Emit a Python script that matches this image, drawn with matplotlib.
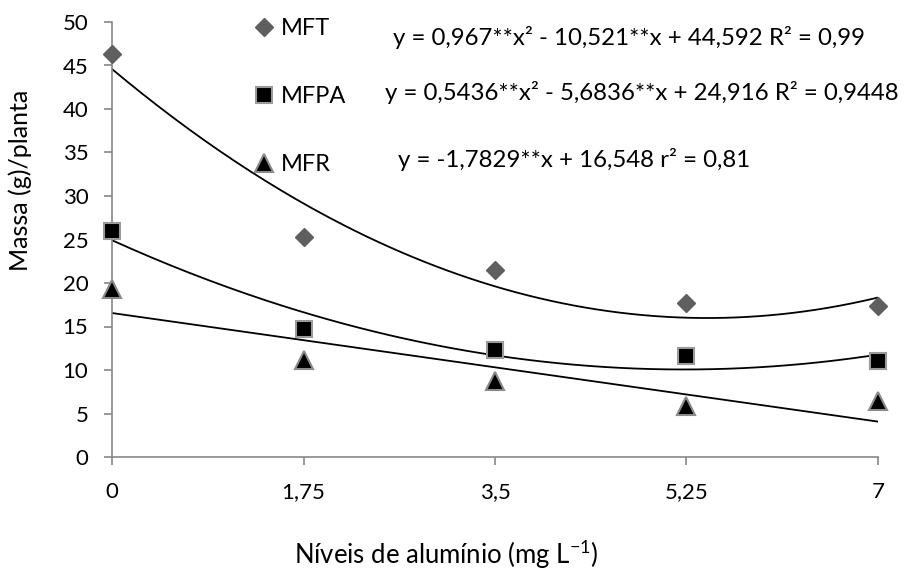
import matplotlib
matplotlib.use("Agg")
import matplotlib.pyplot as plt
from matplotlib.lines import Line2D
import numpy as np

plt.rcParams["font.family"] = ["Lato", "DejaVu Sans"]
plt.rcParams["mathtext.default"] = "regular"

# doses of aluminium (mg L-1)
niveis = [0, 1.75, 3.5, 5.25, 7]
tick_labels = ["0", "1,75", "3,5", "5,25", "7"]

# observed means
mft = [46.3, 25.3, 21.5, 17.7, 17.35]
mfpa = [25.95, 14.7, 12.3, 11.6, 11.0]
mfr = [19.3, 11.2, 8.75, 5.85, 6.4]

# regression coefficients (c2, c1, c0) from the equations
coef_mft = [0.967, -10.521, 44.592]
coef_mfpa = [0.5436, -5.6836, 24.916]
coef_mfr = [0.0, -1.7829, 16.548]

eqs = ["y = 0,967**x² - 10,521**x + 44,592 R² = 0,99",
       "y = 0,5436**x² - 5,6836**x + 24,916 R² = 0,9448",
       "y = -1,7829**x + 16,548 r² = 0,81"]

AX = "#888888"
GRAY = "#5f5f5f"
W, H = 908, 571

fig = plt.figure(figsize=(9.08, 5.71), dpi=100)
ax = fig.add_axes([112 / W, 1 - 457 / H, 766 / W, 435 / H])

xs = np.linspace(0, 7, 200)
for c in (coef_mft, coef_mfpa, coef_mfr):
    ax.plot(xs, np.polyval(c, xs), color="black", lw=1.3, zorder=2)

sty_d = dict(ls="none", marker="D", ms=9, mfc=GRAY, mec=GRAY)
sty_s = dict(ls="none", marker="s", ms=12, mfc="black", mec="#9a9a9a", mew=1.5)
sty_t = dict(ls="none", marker="^", ms=12.5, mfc="black", mec="#8a8a8a", mew=1.5)

ax.plot(niveis, mft, zorder=3, clip_on=False, **sty_d)
ax.plot(niveis, mfpa, zorder=3, clip_on=False, **sty_s)
ax.plot(niveis, mfr, zorder=3, clip_on=False, **sty_t)

ax.set_xlim(0, 7)
ax.set_ylim(0, 50)
ax.set_xticks(niveis)
ax.set_xticklabels(tick_labels)
ax.set_yticks(range(0, 51, 5))
for s in ("top", "right"):
    ax.spines[s].set_visible(False)
for s in ("left", "bottom"):
    ax.spines[s].set_color(AX)
    ax.spines[s].set_linewidth(1.2)
ax.tick_params(axis="both", colors=AX, labelcolor="black", labelsize=16, length=6, width=1.2)
ax.tick_params(axis="x", pad=12)
ax.tick_params(axis="y", pad=11)

fig.text(20 / W, 1 - 180 / H, "Massa (g)/planta", rotation=90, fontsize=18, ha="center", va="center")
fig.text(446 / W, 1 - 564 / H, "Níveis de alumínio (mg L$^{-1}$)", fontsize=18.5, ha="center", va="baseline")

handles = [Line2D([], [], **sty_d), Line2D([], [], **sty_s), Line2D([], [], **sty_t)]
ax.legend(handles, ["MFT", "MFPA", "MFR"], loc="upper left", bbox_to_anchor=(0.174, 1.031),
          frameon=False, fontsize=17, handlelength=0.8, handletextpad=0.3, labelspacing=2.0,
          borderaxespad=0)

eq_pos = [(0.367, 0.947), (0.356, 0.821), (0.373, 0.667)]
for (x, y), t in zip(eq_pos, eqs):
    ax.text(x, y, t, transform=ax.transAxes, fontsize=17.3, ha="left", va="baseline")

fig.savefig("out.png", dpi=100, facecolor="white")
